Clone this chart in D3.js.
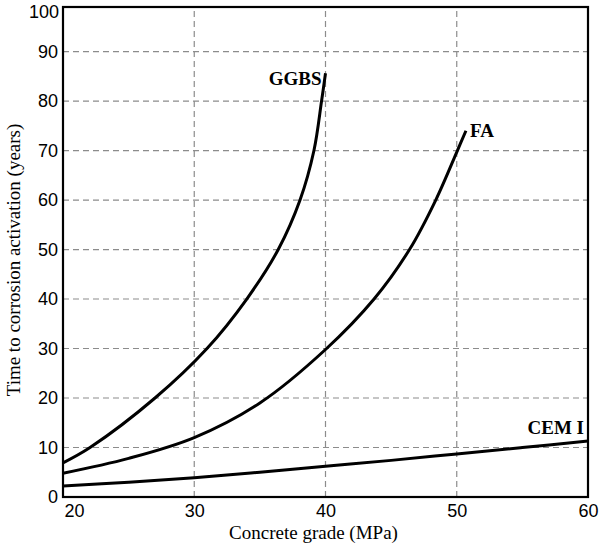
<!DOCTYPE html>
<html>
<head>
<meta charset="utf-8">
<script src="https://cdn.jsdelivr.net/npm/d3@7"></script>
<style>
  body { margin: 0; background: #fff; }
  svg { display: block; font-family: "Liberation Serif", "Times New Roman", serif; }
  .grid line { stroke: #8c8c8c; stroke-width: 1.2; stroke-dasharray: 6 4; }
  .axis text { font-size: 18px; fill: #000; }
  .axis path, .axis line { display: none; }
</style>
</head>
<body>
<svg id="chart"></svg>
<script>
// x values (concrete grade, MPa) and time to corrosion activation (years)
const cemX = [20, 25, 30, 35, 40, 45, 50, 55, 60];
const cemY = [2.2, 3.0, 3.9, 5.0, 6.2, 7.4, 8.7, 10.0, 11.3];

const faX = [20, 25, 30, 35, 40, 43.7, 46.4, 48.4, 50.05, 50.7];
const faY = [4.8, 7.8, 12, 19, 29.8, 40, 50, 60, 70, 74];

const ggbsX = [20, 22.06, 27.01, 30.97, 34.0, 36.4, 38.06, 39.12, 39.7, 40];
const ggbsY = [6.9, 10, 20, 30, 40, 50, 60, 70, 80, 85.6];

const xTicks = [20, 30, 40, 50, 60];
const yTicks = [0, 10, 20, 30, 40, 50, 60, 70, 80, 90];
const xGrid = [30, 40, 50];
const yGrid = [10, 20, 30, 40, 50, 60, 70, 80, 90];

const width = 601, height = 544;
const margin = {left: 63, right: 13, top: 7, bottom: 47};

const svg = d3.select('#chart')
    .attr('width', width)
    .attr('height', height);

const x = d3.scaleLinear()
    .domain([20, 60])
    .range([margin.left, width - margin.right]);

const y = d3.scaleLinear()
    .domain([0, 99])
    .range([height - margin.bottom, margin.top]);

// grid
const grid = svg.append('g').attr('class', 'grid');
grid.selectAll('.gx').data(xGrid).enter().append('line')
    .attr('x1', d => x(d)).attr('x2', d => x(d))
    .attr('y1', y(0)).attr('y2', margin.top);
grid.selectAll('.gy').data(yGrid).enter().append('line')
    .attr('x1', x(20)).attr('x2', x(60))
    .attr('y1', d => y(d)).attr('y2', d => y(d));

// axes (labels only, the frame is drawn below)
const xAxis = svg.append('g')
    .attr('class', 'axis')
    .attr('transform', `translate(0, ${y(0)})`)
    .call(d3.axisBottom(x).tickValues(xTicks).tickSize(0).tickPadding(6));
xAxis.selectAll('.tick text')
    .attr('dy', '0.75em')
    .filter(d => d === 20)
    .attr('text-anchor', 'start')
    .attr('dx', 1);

const yAxis = svg.append('g')
    .attr('class', 'axis')
    .attr('transform', `translate(${x(20)}, 0)`)
    .call(d3.axisLeft(y).tickValues(yTicks).tickSize(0).tickPadding(5));

// top label sits on the frame
yAxis.append('text')
    .attr('x', -4)
    .attr('y', margin.top + 5)
    .attr('dy', '0.32em')
    .attr('text-anchor', 'end')
    .text('100');

// frame
svg.append('rect')
    .attr('x', x(20)).attr('y', margin.top)
    .attr('width', x(60) - x(20))
    .attr('height', y(0) - margin.top)
    .attr('fill', 'none')
    .attr('stroke', '#000')
    .attr('stroke-width', 2.2);

// curves
const line = d3.line()
    .x(d => x(d[0]))
    .y(d => y(d[1]))
    .curve(d3.curveCatmullRom.alpha(0.5));

const series = [
    {name: 'CEM I', xs: cemX, ys: cemY},
    {name: 'FA', xs: faX, ys: faY},
    {name: 'GGBS', xs: ggbsX, ys: ggbsY}
];

svg.append('g')
    .selectAll('path')
    .data(series)
    .enter()
    .append('path')
    .attr('d', s => line(s.xs.map((v, i) => [v, s.ys[i]])))
    .attr('fill', 'none')
    .attr('stroke', '#000')
    .attr('stroke-width', 3);

// series labels
const labelStyle = sel => sel
    .attr('font-size', 19)
    .attr('font-weight', 'bold')
    .attr('fill', '#000');

const lastOf = s => [s.xs[s.xs.length - 1], s.ys[s.ys.length - 1]];

const ggbsEnd = lastOf(series[2]);
svg.append('text').call(labelStyle)
    .attr('x', x(ggbsEnd[0]) - 4)
    .attr('y', y(ggbsEnd[1]) + 12)
    .attr('text-anchor', 'end')
    .text('GGBS');

const faEnd = lastOf(series[1]);
svg.append('text').call(labelStyle)
    .attr('x', x(faEnd[0]) + 4)
    .attr('y', y(faEnd[1]) + 6)
    .text('FA');

const cemEnd = lastOf(series[0]);
svg.append('text').call(labelStyle)
    .attr('x', x(cemEnd[0]) - 4)
    .attr('y', y(cemEnd[1]) - 7)
    .attr('text-anchor', 'end')
    .text('CEM I');

// axis titles
svg.append('text')
    .attr('x', (x(20) + x(60)) / 2 - 12)
    .attr('y', height - 5)
    .attr('text-anchor', 'middle')
    .attr('font-size', 19)
    .text('Concrete grade (MPa)');

svg.append('text')
    .attr('transform', `translate(20, ${(y(0) + margin.top) / 2 + 8}) rotate(-90)`)
    .attr('text-anchor', 'middle')
    .attr('font-size', 19)
    .text('Time to corrosion activation (years)');
</script>
</body>
</html>
